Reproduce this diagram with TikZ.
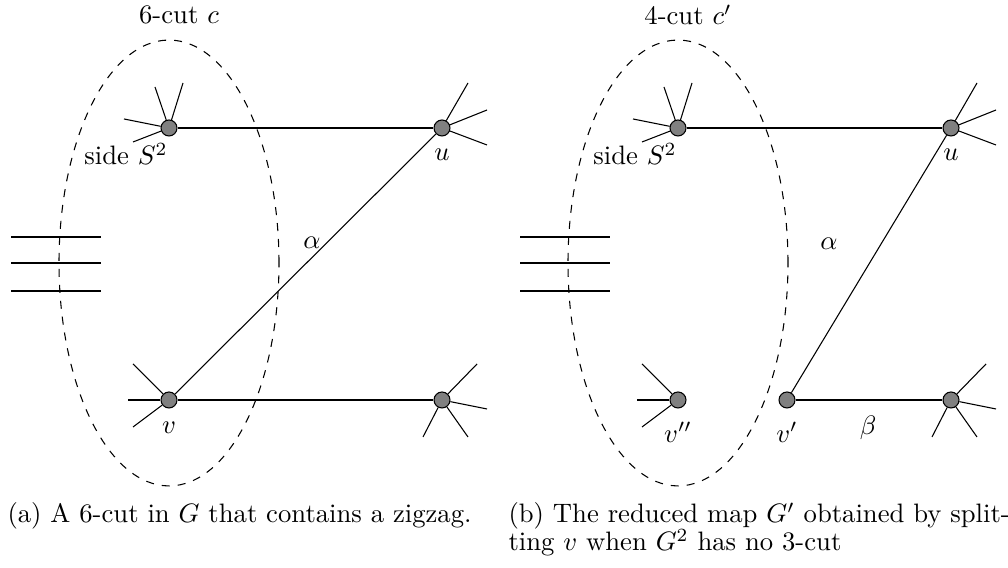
\documentclass[tikz,border=0pt]{standalone}
\usepackage{amsmath, amssymb}
\usepackage{tikz}
\usetikzlibrary{shapes.geometric}

\tikzset{
    vertex/.style={circle, draw, fill=gray, inner sep=0pt, minimum size=6pt},
    cutline/.style={ellipse, draw, dashed, inner sep=0pt, minimum width=82.5pt, minimum height=167.2pt},
    subcap/.style={anchor=base west, inner sep=0pt},
}

\begin{document}
\begin{tikzpicture}[x=0.375pt, y=-0.375pt]
    \useasboundingbox (0,0) rectangle (1008,568);

    % (a) the 6-cut
    \node[cutline] (cutA) at (169,263) {};
    \foreach \y in {237,263,291} \draw (11,\y) -- (101,\y);
    \node[vertex] (xA) at (169,128) {};
    \node[vertex] (uA) at (442,128) {};
    \node[vertex] (vA) at (169,400) {};
    \node[vertex] (wA) at (442,400) {};
    \draw (xA) -- (uA);
    \draw (vA) -- (wA);
    \draw (vA) -- (uA);
    \foreach \dx/\dy in {-45/-9, -36/14, -14/-41, 14/-45} \draw (xA) -- +(\dx,\dy);
    \foreach \dx/\dy in {26/-45, 45/-18, 45/17} \draw (uA) -- +(\dx,\dy);
    \foreach \dx/\dy in {-36/-36, -41/0, -36/27} \draw (vA) -- +(\dx,\dy);
    \foreach \dx/\dy in {35/-36, 45/9, -19/37, 26/37} \draw (wA) -- +(\dx,\dy);
    \node (cutlabelA) at (179,15) {6-cut $c$};
    \node (sideA) at (126,154) {side $S^2$};
    \node (alphaA) at (312,243) {$\alpha$};
    \node (ulabelA) at (442,155) {$u$};
    \node (vlabelA) at (169,428) {$v$};
    \node[subcap] (capA) at (7,523) {(a) A 6-cut in $G$ that contains a zigzag.};

    % (b) after splitting v
    \node[cutline] (cutB) at (678,263) {};
    \foreach \y in {237,263,291} \draw (520,\y) -- (610,\y);
    \node[vertex] (xB) at (678,128) {};
    \node[vertex] (uB) at (951,128) {};
    \node[vertex] (vsB) at (678,400) {};
    \node[vertex] (vpB) at (787,400) {};
    \node[vertex] (wB) at (951,400) {};
    \draw (xB) -- (uB);
    \draw (vpB) -- (wB);
    \draw (vpB) -- (uB);
    \foreach \dx/\dy in {-45/-9, -36/14, -14/-41, 14/-45} \draw (xB) -- +(\dx,\dy);
    \foreach \dx/\dy in {26/-45, 45/-18, 45/17} \draw (uB) -- +(\dx,\dy);
    \foreach \dx/\dy in {-36/-36, -41/0, -36/27} \draw (vsB) -- +(\dx,\dy);
    \foreach \dx/\dy in {35/-36, 45/9, -19/37, 26/37} \draw (wB) -- +(\dx,\dy);
    \node (cutlabelB) at (688,15) {4-cut $c'$};
    \node (sideB) at (635,154) {side $S^2$};
    \node (alphaB) at (829,244) {$\alpha$};
    \node (ulabelB) at (951,155) {$u$};
    \node (vsLabel) at (678,432) {$v''$};
    \node (vpLabel) at (787,432) {$v'$};
    \node (betaB) at (868,428) {$\beta$};
    \node[subcap] (capB) at (508,523) {(b) The reduced map $G'$ obtained by split-};
    \node[subcap] (capBtwo) at (508,551) {ting $v$ when $G^2$ has no 3-cut};
\end{tikzpicture}
\end{document}
